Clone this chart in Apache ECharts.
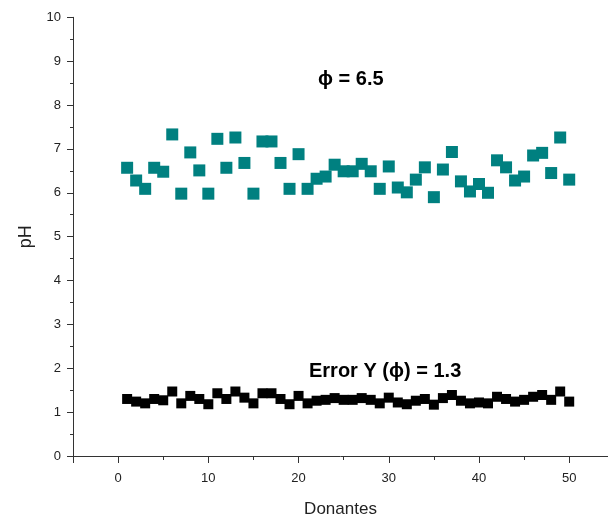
<!DOCTYPE html>
<html>
<head>
<meta charset="utf-8">
<script src="https://cdn.jsdelivr.net/npm/echarts@6/dist/echarts.min.js"></script>
<style>
html,body{margin:0;padding:0;background:#fff;}
#chart{width:608px;height:523px;}
</style>
</head>
<body>
<div id="chart"></div>
<script>
// Data
var donantes = [];
for (var k = 1; k <= 50; k++) donantes.push(k);
var phValues = [6.57,6.28,6.09,6.57,6.48,7.33,5.98,6.92,6.51,5.98,
                7.23,6.57,7.26,6.68,5.98,7.17,7.17,6.68,6.09,6.88,
                6.09,6.32,6.37,6.64,6.49,6.49,6.66,6.49,6.09,6.60,
                6.12,6.01,6.30,6.58,5.90,6.53,6.93,6.26,6.03,6.20,
                6.00,6.74,6.58,6.28,6.37,6.85,6.91,6.45,7.26,6.30];
var errValues = [1.30,1.24,1.20,1.30,1.27,1.47,1.20,1.37,1.30,1.18,
                 1.43,1.30,1.47,1.33,1.20,1.43,1.43,1.30,1.18,1.37,
                 1.20,1.26,1.28,1.32,1.28,1.28,1.32,1.28,1.20,1.33,
                 1.22,1.18,1.26,1.30,1.17,1.32,1.39,1.26,1.20,1.22,
                 1.20,1.35,1.30,1.24,1.28,1.35,1.39,1.28,1.47,1.24];
var xMajorTicks = [-5,0,10,20,30,40,50];
var xMinorTicks = [5,15,25,35,45];
var xLabels = [0,10,20,30,40,50];
var annotationPh = 'ϕ = 6.5';
var annotationErr = 'Error Y (ϕ) = 1.3';

var font = "'Liberation Sans', Arial, sans-serif";
var axisColor = '#333';

function pairs(xs, ys){ return xs.map(function(x,i){ return [x, ys[i]]; }); }

var chart = echarts.init(document.getElementById('chart'), null, {renderer:'canvas'});
chart.setOption({
  animation: false,
  backgroundColor: '#fff',
  grid: {left: 73, right: 0, top: 17.3, bottom: 66, containLabel: false},
  xAxis: [{
    type: 'value', min: -5, max: 54.3, interval: 5,
    name: 'Donantes', nameLocation: 'middle', nameGap: 45,
    nameTextStyle: {fontFamily: font, fontSize: 17, color: '#222'},
    axisLine: {show: true, onZero: false, lineStyle: {color: axisColor, width: 1}},
    axisTick: {show: true, inside: false, length: 7, customValues: xMajorTicks, lineStyle: {color: axisColor}},
    axisLabel: {show: true, customValues: xLabels, margin: 16, fontFamily: font, fontSize: 13, color: '#222'},
    splitLine: {show: false}
  },{
    type: 'value', min: -5, max: 54.3, interval: 5, position: 'bottom',
    axisLine: {show: false},
    axisTick: {show: true, inside: false, length: 4, customValues: xMinorTicks, lineStyle: {color: axisColor}},
    axisLabel: {show: false},
    splitLine: {show: false}
  }],
  yAxis: {
    type: 'value', min: 0, max: 10, interval: 1,
    name: 'pH', nameLocation: 'middle', nameGap: 38,
    nameTextStyle: {fontFamily: font, fontSize: 18, color: '#222'},
    axisLine: {show: true, onZero: false, lineStyle: {color: axisColor, width: 1}},
    axisTick: {show: true, inside: false, length: 6, lineStyle: {color: axisColor}},
    minorTick: {show: true, splitNumber: 2, length: 3, lineStyle: {color: axisColor}},
    axisLabel: {margin: 12, fontFamily: font, fontSize: 13, color: '#222'},
    splitLine: {show: false}
  },
  series: [{
    type: 'scatter', xAxisIndex: 0, symbol: 'rect', symbolSize: 12,
    itemStyle: {color: '#008080', opacity: 1},
    data: pairs(donantes, phValues)
  },{
    type: 'scatter', xAxisIndex: 0, symbol: 'rect', symbolSize: 10,
    itemStyle: {color: '#000', opacity: 1},
    data: pairs(donantes, errValues)
  }],
  graphic: [{
    type: 'text', left: 318, top: 69,
    style: {text: annotationPh, font: "bold 20px " + font, fill: '#000'}
  },{
    type: 'text', left: 309, top: 361,
    style: {text: annotationErr, font: "bold 20px " + font, fill: '#000'}
  }]
});
</script>
</body>
</html>
